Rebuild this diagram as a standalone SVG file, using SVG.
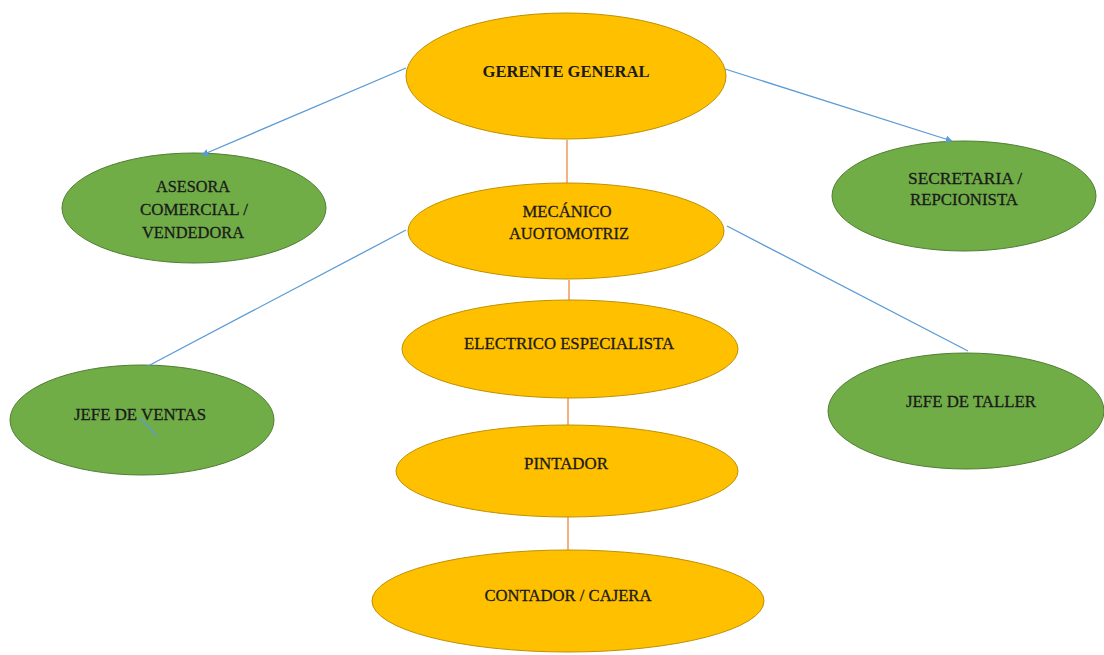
<svg xmlns="http://www.w3.org/2000/svg" width="1104" height="655" viewBox="0 0 1104 655">
  <defs>
    <marker id="arrow" viewBox="0 0 10 10" refX="9" refY="5" markerWidth="7" markerHeight="7" orient="auto" markerUnits="userSpaceOnUse">
      <path d="M0,0 L10,5 L0,10 z" fill="#5B9BD5"/>
    </marker>
    <style>
      .gold { fill: #FFC000; stroke: #BF9000; stroke-width: 1; }
      .green { fill: #70AD47; stroke: #507E32; stroke-width: 1; }
      .blue { stroke: #5B9BD5; stroke-width: 1.3; fill: none; }
      .orange { stroke: #ED7D31; stroke-width: 1.2; fill: none; }
      text { font-family: "Liberation Serif", "Times New Roman", serif; font-size: 17px; fill: #1a1a1a; stroke: #1a1a1a; stroke-width: 0.3; }
      .b { font-weight: bold; stroke-width: 0; }
    </style>
  </defs>
  <rect width="1104" height="655" fill="#ffffff"/>

  <g id="gerente">
    <ellipse class="gold" cx="566" cy="76" rx="160" ry="63"/>
    <text class="b" x="566" y="77" text-anchor="middle" textLength="167" lengthAdjust="spacingAndGlyphs">GERENTE GENERAL</text>
  </g>

  <g id="mecanico">
    <ellipse class="gold" cx="566" cy="231" rx="158" ry="48"/>
    <text x="567" y="217" text-anchor="middle" textLength="89" lengthAdjust="spacingAndGlyphs">MECÁNICO</text>
    <text x="569" y="239" text-anchor="middle" textLength="120" lengthAdjust="spacingAndGlyphs">AUOTOMOTRIZ</text>
  </g>

  <g id="electrico">
    <ellipse class="gold" cx="570" cy="349" rx="168" ry="49"/>
    <text x="569" y="349" text-anchor="middle" textLength="210" lengthAdjust="spacingAndGlyphs">ELECTRICO ESPECIALISTA</text>
  </g>

  <g id="pintador">
    <ellipse class="gold" cx="567" cy="471" rx="171" ry="46"/>
    <text x="566" y="469" text-anchor="middle" textLength="84" lengthAdjust="spacingAndGlyphs">PINTADOR</text>
  </g>

  <g id="contador">
    <ellipse class="gold" cx="568" cy="601" rx="196" ry="51"/>
    <text x="568" y="601" text-anchor="middle" textLength="167" lengthAdjust="spacingAndGlyphs">CONTADOR / CAJERA</text>
  </g>

  <g id="asesora">
    <ellipse class="green" cx="194" cy="208" rx="132" ry="55"/>
    <text x="193" y="192" text-anchor="middle" textLength="74" lengthAdjust="spacingAndGlyphs">ASESORA</text>
    <text x="194" y="215" text-anchor="middle" textLength="108" lengthAdjust="spacingAndGlyphs">COMERCIAL /</text>
    <text x="193" y="238" text-anchor="middle" textLength="102" lengthAdjust="spacingAndGlyphs">VENDEDORA</text>
  </g>

  <g id="secretaria">
    <ellipse class="green" cx="964" cy="196" rx="132" ry="55"/>
    <text x="965" y="184" text-anchor="middle" textLength="114" lengthAdjust="spacingAndGlyphs">SECRETARIA /</text>
    <text x="964" y="205" text-anchor="middle" textLength="108" lengthAdjust="spacingAndGlyphs">REPCIONISTA</text>
  </g>

  <g id="jefe-ventas">
    <ellipse class="green" cx="142" cy="420" rx="132" ry="55"/>
    <text x="140" y="420" text-anchor="middle" textLength="132" lengthAdjust="spacingAndGlyphs">JEFE DE VENTAS</text>
  </g>

  <g id="jefe-taller">
    <ellipse class="green" cx="966" cy="411" rx="138" ry="58"/>
    <text x="971" y="407" text-anchor="middle" textLength="130" lengthAdjust="spacingAndGlyphs">JEFE DE TALLER</text>
  </g>

  <!-- connectors, drawn above the nodes -->
  <g id="connectors">
    <line class="blue" x1="406" y1="68" x2="202" y2="155" marker-end="url(#arrow)"/>
    <line class="blue" x1="725" y1="69" x2="952" y2="141" marker-end="url(#arrow)"/>
    <line class="orange" x1="567" y1="140" x2="567" y2="183"/>
    <line class="blue" x1="406" y1="230" x2="148" y2="366"/>
    <line class="blue" x1="140" y1="418" x2="157" y2="436"/>
    <line class="blue" x1="727" y1="226" x2="968" y2="351"/>
    <line class="orange" x1="569" y1="280" x2="569" y2="300"/>
    <line class="orange" x1="568" y1="398" x2="568" y2="425"/>
    <line class="orange" x1="568" y1="517" x2="568" y2="550"/>
  </g>
</svg>
